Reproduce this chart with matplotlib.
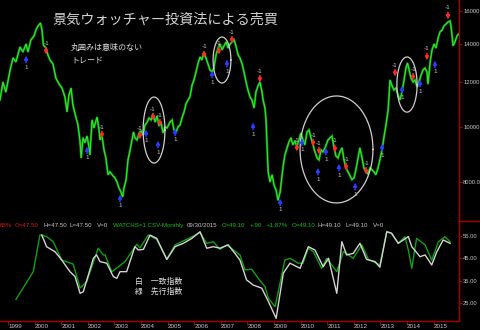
import numpy as np
import matplotlib.pyplot as plt
from matplotlib.lines import Line2D
from matplotlib.transforms import offset_copy

plt.rcParams['font.family'] = ['Liberation Sans', 'DejaVu Sans']
JP = ['Noto Sans CJK JP', 'DejaVu Sans']

# ── price series (decimal year, level) ──────────────────────────────────────
price_t = [1998.70, 1998.81, 1998.92, 1999.08, 1999.19, 1999.30, 1999.45, 1999.56, 1999.68, 1999.75,
           1999.86, 1999.98, 2000.05, 2000.13, 2000.22, 2000.28, 2000.33, 2000.43, 2000.50, 2000.58,
           2000.69, 2000.80, 2000.92, 2001.03, 2001.14, 2001.22, 2001.29, 2001.37, 2001.44, 2001.56,
           2001.63, 2001.71, 2001.75, 2001.82, 2001.89, 2001.97, 2002.05, 2002.08, 2002.16, 2002.23,
           2002.35, 2002.42, 2002.46, 2002.53, 2002.61, 2002.68, 2002.76, 2002.83, 2002.95, 2003.02,
           2003.10, 2003.17, 2003.25, 2003.31, 2003.36, 2003.44, 2003.51, 2003.59, 2003.66, 2003.72,
           2003.77, 2003.85, 2003.93, 2004.00, 2004.08, 2004.15, 2004.23, 2004.30, 2004.38, 2004.45,
           2004.53, 2004.60, 2004.68, 2004.75, 2004.83, 2004.90, 2004.98, 2005.09, 2005.17, 2005.24,
           2005.32, 2005.39, 2005.47, 2005.54, 2005.62, 2005.69, 2005.77, 2005.84, 2005.92, 2005.99,
           2006.07, 2006.14, 2006.22, 2006.29, 2006.37, 2006.44, 2006.52, 2006.59, 2006.67, 2006.74,
           2006.82, 2006.90, 2006.97, 2007.05, 2007.12, 2007.20, 2007.27, 2007.35, 2007.42, 2007.50,
           2007.57, 2007.65, 2007.72, 2007.80, 2007.87, 2007.95, 2008.02, 2008.10, 2008.17, 2008.25,
           2008.32, 2008.40, 2008.47, 2008.55, 2008.59, 2008.66, 2008.70, 2008.74, 2008.78, 2008.85,
           2008.93, 2009.00, 2009.08, 2009.15, 2009.23, 2009.26, 2009.34, 2009.41, 2009.49, 2009.56,
           2009.64, 2009.71, 2009.79, 2009.86, 2009.94, 2010.01, 2010.09, 2010.16, 2010.24, 2010.32,
           2010.39, 2010.47, 2010.54, 2010.62, 2010.69, 2010.77, 2010.84, 2010.92, 2011.03, 2011.11,
           2011.18, 2011.26, 2011.33, 2011.41, 2011.48, 2011.56, 2011.63, 2011.71, 2011.78, 2011.86,
           2011.93, 2012.01, 2012.08, 2012.16, 2012.23, 2012.31, 2012.38, 2012.46, 2012.53, 2012.61,
           2012.68, 2012.76, 2012.83, 2012.91, 2012.98, 2013.06, 2013.14, 2013.21, 2013.29, 2013.32,
           2013.36, 2013.44, 2013.51, 2013.59, 2013.66, 2013.74, 2013.81, 2013.89, 2013.96, 2014.02,
           2014.08, 2014.15, 2014.23, 2014.30, 2014.38, 2014.45, 2014.53, 2014.60, 2014.68, 2014.75,
           2014.79, 2014.87, 2014.94, 2015.02, 2015.09, 2015.17, 2015.24, 2015.32, 2015.39, 2015.47,
           2015.54, 2015.62, 2015.65, 2015.69, 2015.73, 2015.80, 2015.88, 2015.94]
price_v = [11160, 12000, 11520, 12600, 13230, 13020, 13830, 13550, 14000, 13550,
           14230, 14460, 14810, 15060, 15240, 14810, 13940, 13770, 13390, 13120,
           12910, 12190, 11900, 11710, 11290, 10630, 11380, 11710, 10930, 10370,
           10080, 9410, 8820, 9570, 9380, 9640, 9190, 8930, 10290, 9960,
           10410, 9880, 9490, 9680, 9110, 8820, 8240, 8340, 8200, 8140,
           8000, 7810, 7680, 7530, 7810, 8080, 8750, 9110, 9490, 9800,
           9570, 9490, 9760, 9840, 9680, 10080, 10200, 10370, 10290, 10540,
           10200, 10460, 10040, 10200, 9760, 10000, 9960, 10200, 10290, 9880,
           9800, 10000, 10080, 10370, 10630, 10980, 11160, 11290, 11850, 12100,
           12500, 12910, 13280, 13120, 13550, 13230, 12910, 12600, 12500, 12700,
           13390, 13770, 14000, 13670, 13890, 14110, 13770, 14000, 14110, 14230,
           13890, 13390, 13230, 12910, 12500, 12000, 11620, 11290, 11160, 10800,
           11520, 11810, 12000, 11520, 11160, 10800, 10290, 9300, 8340, 8000,
           8240, 7900, 7740, 7430, 7680, 7900, 8510, 8930, 9190, 9410,
           9570, 9300, 9450, 9230, 9490, 9760, 9490, 9300, 9800, 9880,
           9570, 9300, 9040, 8820, 8750, 9110, 9040, 9190, 9490, 9570,
           9640, 9190, 8890, 8820, 9040, 9190, 8750, 8470, 8340, 8200,
           8080, 8140, 8410, 8820, 9190, 8820, 8470, 8340, 8270, 8470,
           8410, 8340, 8240, 8470, 8750, 9110, 9640, 10080, 10710, 11250,
           12100, 11810, 11620, 11710, 11380, 11160, 11520, 12100, 12700, 12960,
           12600, 12190, 12000, 12100, 11760, 12000, 12340, 12600, 12700, 12500,
           11900, 13020, 13670, 14000, 13770, 14340, 14700, 14810, 15060, 15180,
           15300, 15370, 15060, 14580, 13890, 14110, 14460, 14580]

# ── sell (-1) and buy (1) signals ───────────────────────────────────────────
sell_t = [2000.43, 2002.53, 2003.96, 2004.45, 2004.71, 2006.37, 2006.93, 2007.42, 2008.47, 2009.86,
          2010.47, 2010.69, 2011.29, 2011.71, 2012.46, 2013.55, 2014.23, 2014.75, 2015.54]
sell_v = [13600, 9680, 9640, 10410, 10160, 13390, 13600, 14220, 12140, 9180,
          9370, 9070, 9150, 8500, 8360, 12440, 12240, 13280, 15680]
buy_t = [1999.68, 2001.97, 2003.21, 2004.19, 2004.64, 2005.28, 2006.67, 2007.23, 2008.21, 2009.23,
         2010.05, 2010.65, 2010.95, 2011.44, 2012.05, 2013.06, 2013.81, 2014.49, 2015.05]
buy_v = [13170, 9110, 7500, 9760, 9330, 9800, 12390, 12960, 10040, 7380,
         9410, 8360, 9070, 8500, 7870, 9220, 11660, 11950, 12910]

# circled trades: start, end, low, high
ring_t0 = [2004.08, 2006.71, 2009.98, 2013.62]
ring_t1 = [2004.90, 2007.38, 2012.72, 2014.38]
ring_lo = [8640, 11950, 7350, 10620]
ring_hi = [11290, 14400, 11340, 13280]

# ── economy watcher indices ─────────────────────────────────────────────────
lead_t = [1999.30, 1999.95, 2000.20, 2000.27, 2000.45, 2000.70, 2001.02, 2001.45, 2001.71, 2001.96,
          2002.39, 2002.58, 2002.65, 2002.90, 2003.15, 2003.40, 2003.84, 2003.96, 2004.27, 2004.59,
          2004.97, 2005.28, 2005.72, 2006.22, 2006.47, 2006.72, 2006.97, 2007.22, 2007.72, 2007.91,
          2008.16, 2008.41, 2008.66, 2008.79, 2009.04, 2009.41, 2009.60, 2009.91, 2010.09, 2010.29,
          2010.48, 2010.79, 2010.98, 2011.36, 2011.61, 2011.98, 2012.30, 2012.55, 2012.98, 2013.24,
          2013.42, 2013.67, 2013.92, 2014.05, 2014.18, 2014.36, 2014.68, 2014.93, 2015.18, 2015.43,
          2015.62]
lead_v = [26.6, 39.0, 55.4, 55.4, 54.7, 52.4, 44.2, 42.4, 31.7, 34.5,
          49.5, 46.5, 46.5, 39.0, 41.2, 43.5, 51.3, 49.6, 55.4, 53.5,
          44.5, 51.0, 53.5, 56.5, 51.7, 52.4, 49.0, 51.0, 46.5, 39.8,
          40.1, 36.0, 32.3, 27.1, 23.3, 44.2, 45.0, 42.8, 42.8, 49.5,
          48.0, 40.5, 45.0, 39.0, 48.0, 45.0, 51.0, 44.5, 42.0, 56.9,
          56.2, 51.7, 54.7, 48.7, 40.5, 53.9, 51.0, 44.2, 52.4, 54.7,
          52.4]
coin_t = [2000.27, 2000.45, 2000.77, 2001.02, 2001.33, 2001.52, 2001.71, 2001.83, 2002.21, 2002.33,
          2002.46, 2002.71, 2002.96, 2003.09, 2003.21, 2003.46, 2003.77, 2003.90, 2004.09, 2004.34,
          2004.59, 2004.97, 2005.28, 2005.59, 2005.91, 2006.22, 2006.47, 2006.72, 2006.97, 2007.28,
          2007.53, 2007.72, 2007.97, 2008.22, 2008.54, 2008.79, 2009.08, 2009.35, 2009.60, 2009.98,
          2010.29, 2010.54, 2010.85, 2011.05, 2011.36, 2011.55, 2011.73, 2011.98, 2012.23, 2012.48,
          2012.80, 2012.98, 2013.24, 2013.42, 2013.67, 2014.05, 2014.18, 2014.49, 2014.68, 2014.93,
          2015.12, 2015.36, 2015.62]
coin_v = [55.4, 50.2, 47.9, 44.2, 39.0, 36.8, 29.3, 30.0, 45.0, 46.5,
          43.5, 42.8, 36.8, 36.0, 39.0, 39.0, 50.2, 48.7, 49.0, 55.4,
          53.9, 44.5, 50.2, 51.7, 53.9, 56.9, 49.5, 50.2, 49.5, 51.0,
          47.2, 44.2, 35.3, 33.0, 31.6, 25.6, 18.1, 38.3, 42.8, 40.5,
          50.2, 48.7, 41.2, 45.0, 29.3, 52.4, 46.5, 47.2, 51.7, 44.5,
          43.5, 41.0, 56.9, 56.2, 51.7, 54.7, 50.2, 45.7, 46.5, 42.0,
          47.9, 53.2, 51.7]

years = list(range(1999, 2016))
price_ticks = [8000, 10000, 12000, 14000, 16000]
price_labels = ['8000.0', '10000', '12000', '14000', '16000']
index_ticks = [25, 35, 45, 55]
index_labels = ['25.00', '35.00', '45.00', '55.00']

RED = '#a80000'
GRAY = '#c8c8c8'
W, H = 480, 330

fig = plt.figure(figsize=(4.8, 3.3), dpi=100, facecolor='black')
ax = fig.add_axes([0, 1 - 221/H, 459/W, 221/H])
bx = fig.add_axes([0, 9/H, 459/W, 100/H])

for a in (ax, bx):
    a.set_facecolor('black')
    a.set_xlim(1998.699, 2015.955)
    for s in ('top', 'left'):
        a.spines[s].set_visible(False)
    a.spines['right'].set_color(RED)
    a.spines['right'].set_linewidth(1.0)
    a.yaxis.tick_right()
    a.tick_params(axis='y', colors=RED, labelcolor=GRAY, length=2.2, width=0.8,
                  labelsize=4.2, pad=0.8)

# ── upper panel: price with trade signals ───────────────────────────────────
ax.spines['bottom'].set_visible(False)
ax.tick_params(axis='x', bottom=False, labelbottom=False)
ax.set_yscale('log')
ax.set_ylim(6832, 16730)
ax.set_yticks(price_ticks, price_labels)
ax.minorticks_off()

ax.plot(price_t, price_v, color='#0a9a0a', lw=1.6, solid_joinstyle='miter')
ax.plot(price_t, price_v, color='#3cf03c', lw=0.6)

tip_dn = offset_copy(ax.transData, fig=fig, x=0, y=-3.5, units='dots')
tip_up = offset_copy(ax.transData, fig=fig, x=0, y=3.5, units='dots')
for t, v in zip(sell_t, sell_v):
    ax.annotate('', xy=(t, v), xycoords=tip_dn, xytext=(0, 7), textcoords='offset pixels',
                arrowprops=dict(arrowstyle='-|>', color='#ff2a2a', lw=1.2,
                                mutation_scale=5, shrinkA=0, shrinkB=0))
    ax.annotate('-1', xy=(t, v), xytext=(0, 8), textcoords='offset pixels',
                ha='center', va='center', fontsize=4.5, color=GRAY)
for t, v in zip(buy_t, buy_v):
    ax.annotate('', xy=(t, v), xycoords=tip_up, xytext=(0, -7), textcoords='offset pixels',
                arrowprops=dict(arrowstyle='-|>', color='#2a3cff', lw=1.2,
                                mutation_scale=5, shrinkA=0, shrinkB=0))
    ax.annotate('1', xy=(t, v), xytext=(0, -8), textcoords='offset pixels',
                ha='center', va='center', fontsize=4.5, color=GRAY)

# rings drawn on the log axis so they stay elliptical on screen
th = np.linspace(0, 2 * np.pi, 240)
for t0, t1, lo, hi in zip(ring_t0, ring_t1, ring_lo, ring_hi):
    xc, xr = (t0 + t1) / 2, (t1 - t0) / 2
    lc, lr = (np.log(lo) + np.log(hi)) / 2, (np.log(hi) - np.log(lo)) / 2
    ax.plot(xc + xr * np.cos(th), np.exp(lc + lr * np.sin(th)),
            color='#cfcfcf', lw=0.9, clip_on=False)

# ── lower panel: leading (green) and coincident (white) ─────────────────────
bx.set_ylim(16.9, 61.7)
bx.set_yticks(index_ticks, index_labels)
bx.spines['bottom'].set_color(RED)
bx.spines['bottom'].set_linewidth(1.0)
bx.plot(lead_t, lead_v, color='#12a012', lw=1.0)
bx.plot(coin_t, coin_v, color='#d4d4d4', lw=1.0)
bx.set_xticks(years, [str(y) for y in years])
bx.tick_params(axis='x', colors=RED, labelcolor=GRAY, length=3.0, width=0.8,
               labelsize=4.5, pad=-0.5)
for lab in bx.get_xticklabels():
    lab.set_ha('left')

# panel divider on the price scale
fig.add_artist(Line2D([459/W, 1], [1 - 221/H] * 2, color=RED, lw=1.0))


def px(x, y):
    return x / W, 1 - y / H


fig.text(*px(52, 20), '景気ウォッチャー投資法による売買', family=JP, fontsize=10.2,
         color='#d4d4d4', va='center')
fig.text(*px(71, 47), '丸囲みは意味のない', family=JP, fontsize=5.8, color='#e0e0e0', va='center')
fig.text(*px(71, 60), 'トレード', family=JP, fontsize=5.8, color='#e0e0e0', va='center')
fig.text(*px(135, 281.7), '白\u3000一致指数', family=JP, fontsize=5.7, color='#e0e0e0', va='center')
fig.text(*px(135, 291.7), '緑\u3000先行指数', family=JP, fontsize=5.7, color='#e0e0e0', va='center')

header = [(0, '65%', '#e01818'), (15, 'O=47.50', '#e01818'), (43, 'H=47.50', GRAY),
          (70, 'L=47.50', GRAY), (97, 'V=0', GRAY), (113, 'WATCHS=1 CSV-Monthly', '#18c018'),
          (187, '09/30/2015', GRAY), (222, 'C=49.10', '#18c018'), (250, '+.90', '#18c018'),
          (267, '+1.87%', '#18c018'), (292, 'O=49.10', '#18c018'), (318, 'H=49.10', GRAY),
          (345, 'L=49.10', GRAY), (373, 'V=0', GRAY)]
for x, s, c in header:
    fig.text(*px(x, 225.7), s, fontsize=4.4, color=c, va='center')

fig.savefig('out.png', dpi=100, facecolor='black')
